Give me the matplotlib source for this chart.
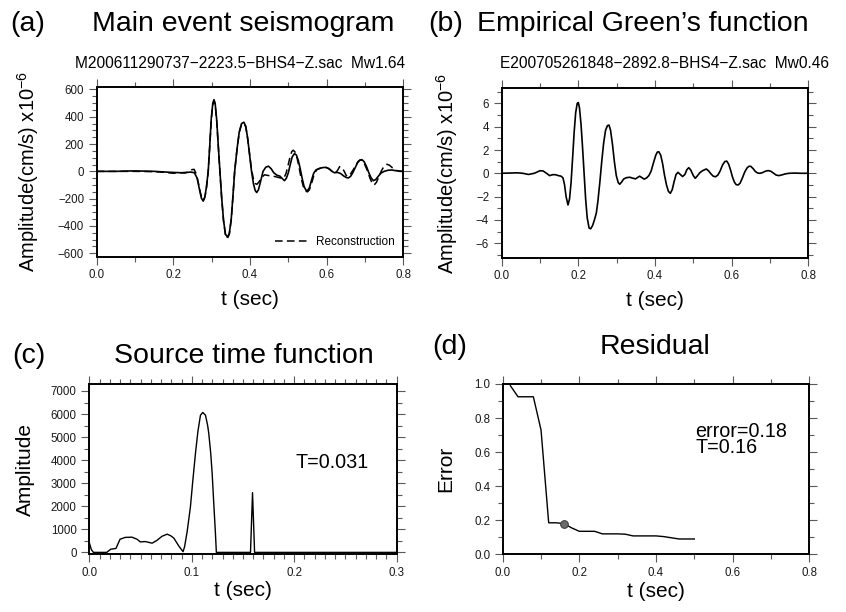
import numpy as np
import matplotlib
matplotlib.use("Agg")
import matplotlib.pyplot as plt
from matplotlib.ticker import MultipleLocator, FuncFormatter

plt.rcParams['font.family'] = ['Liberation Sans', 'DejaVu Sans']
plt.rcParams['mathtext.fontset'] = 'custom'
plt.rcParams['mathtext.rm'] = 'Liberation Sans'
plt.rcParams['mathtext.it'] = 'Liberation Sans'

# (a) main event seismogram and its reconstruction, x10^-6 cm/s
main_t = [0.0, 0.05, 0.09, 0.12, 0.15, 0.18, 0.2, 0.22, 0.235, 0.245, 0.255,
          0.262, 0.268, 0.273, 0.278, 0.282, 0.286, 0.291, 0.295, 0.299, 0.303,
          0.306, 0.309, 0.313, 0.317, 0.3215, 0.326, 0.331, 0.336, 0.341, 0.346,
          0.351, 0.355, 0.36, 0.366, 0.372, 0.378, 0.384, 0.389, 0.394, 0.399,
          0.404, 0.409, 0.4135, 0.4175, 0.422, 0.428, 0.434, 0.441, 0.448, 0.455,
          0.462, 0.47, 0.478, 0.485, 0.49, 0.495, 0.5, 0.505, 0.51, 0.516, 0.521,
          0.526, 0.531, 0.536, 0.541, 0.546, 0.55, 0.555, 0.56, 0.566, 0.572,
          0.58, 0.59, 0.598, 0.606, 0.614, 0.62, 0.628, 0.636, 0.645, 0.652,
          0.657, 0.663, 0.669, 0.675, 0.681, 0.687, 0.692, 0.698, 0.704, 0.71,
          0.716, 0.722, 0.728, 0.735, 0.742, 0.75, 0.76, 0.77, 0.78, 0.79, 0.8]
main_amp = [0, 0, 3, 2, 0, -5, -8, -10, -8, -5, -10,
            -50, -130, -195, -218, -190, -120, 0, 190, 390, 500,
            525, 500, 380, 200, 0, -190, -360, -460, -482, -455,
            -350, -200, 0, 160, 290, 350, 360, 330, 240, 120,
            0, -90, -140, -155, -135, -70, 0, 30, 38, 20,
            -10, -28, -35, -55, -68, -50, -10, 50, 105, 130, 120,
            80, 20, -50, -110, -138, -141, -120, -70, -15, 10,
            20, 28, 29, 20, 0, -10, -8, -15, -35, -46,
            -48, -35, -5, 30, 65, 83, 86, 70, 35, -10,
            -48, -68, -60, -35, -12, 0, 8, 10, 5, 2, 0]

recon_t = [0.0, 0.1, 0.15, 0.18, 0.2, 0.215, 0.23, 0.24, 0.248, 0.254, 0.26,
           0.265, 0.27, 0.275, 0.279, 0.283, 0.287, 0.291, 0.295, 0.299, 0.303,
           0.306, 0.309, 0.313, 0.317, 0.3215, 0.326, 0.331, 0.336, 0.341, 0.346,
           0.351, 0.355, 0.36, 0.366, 0.372, 0.378, 0.384, 0.389, 0.394, 0.399,
           0.404, 0.409, 0.414, 0.418, 0.424, 0.43, 0.438, 0.447, 0.456, 0.465,
           0.475, 0.483, 0.489, 0.494, 0.499, 0.504, 0.509, 0.513, 0.518, 0.523,
           0.528, 0.533, 0.539, 0.545, 0.55, 0.555, 0.561, 0.567, 0.574, 0.582,
           0.592, 0.6, 0.608, 0.616, 0.622, 0.628, 0.634, 0.639, 0.645, 0.651,
           0.656, 0.662, 0.669, 0.676, 0.683, 0.689, 0.695, 0.701, 0.707, 0.713,
           0.719, 0.724, 0.73, 0.736, 0.743, 0.75, 0.757, 0.764, 0.772, 0.782,
           0.79, 0.8]
recon_amp = [0, 0, -2, -8, -14, -10, -12, -3, 12, 15, -20,
             -80, -150, -200, -210, -180, -110, 0, 185, 380, 490,
             515, 490, 375, 195, 0, -195, -365, -468, -490, -462,
             -355, -205, 0, 158, 285, 345, 352, 325, 238, 125,
             10, -55, -90, -95, -75, -45, -25, -30, -35, -38,
             -45, -52, -45, -15, 40, 100, 145, 155, 140, 95,
             30, -45, -110, -145, -150, -135, -85, -25, 12, 22,
             30, 28, 15, -5, -12, 5, 35, 30, 5, -30,
             -38, -20, 10, 45, 75, 85, 72, 40, 0, -50,
             -88, -100, -80, -40, 5, 38, 52, 45, 25, 8,
             0, 0]

# (b) empirical Green's function, x10^-6 cm/s
egf_t = [0.0, 0.02, 0.04, 0.055, 0.07, 0.085, 0.1, 0.108, 0.117, 0.125, 0.133,
         0.14, 0.148, 0.155, 0.16, 0.164, 0.168, 0.173, 0.177, 0.181, 0.185,
         0.189, 0.193, 0.197, 0.2, 0.203, 0.207, 0.211, 0.215, 0.219, 0.223,
         0.228, 0.232, 0.237, 0.242, 0.247, 0.251, 0.256, 0.261, 0.266, 0.271,
         0.276, 0.28, 0.284, 0.289, 0.294, 0.299, 0.304, 0.308, 0.313, 0.318,
         0.325, 0.334, 0.342, 0.349, 0.355, 0.36, 0.366, 0.372, 0.378, 0.384,
         0.39, 0.396, 0.402, 0.406, 0.41, 0.415, 0.42, 0.425, 0.43, 0.435,
         0.44, 0.445, 0.45, 0.455, 0.46, 0.466, 0.472, 0.478, 0.483, 0.488,
         0.493, 0.5, 0.505, 0.511, 0.517, 0.523, 0.529, 0.534, 0.54, 0.546,
         0.552, 0.558, 0.564, 0.57, 0.576, 0.582, 0.587, 0.592, 0.597, 0.602,
         0.607, 0.612, 0.617, 0.622, 0.628, 0.634, 0.64, 0.645, 0.65, 0.656,
         0.662, 0.668, 0.674, 0.68, 0.688, 0.695, 0.702, 0.709, 0.716, 0.723,
         0.73, 0.74, 0.75, 0.765, 0.78, 0.8]
egf_amp = [0.0, 0.02, 0.04, 0.0, -0.1, 0.0, 0.22, 0.2, 0.0, -0.2, -0.12,
           -0.12, -0.2, -0.25, -0.4, -1.0, -2.0, -2.72, -2.2, -0.8, 1.3,
           3.5, 5.2, 6.0, 6.08, 5.6, 4.2, 2.2, 0.0, -2.2, -3.8,
           -4.7, -4.77, -4.5, -4.0, -3.4, -2.4, -0.8, 1.0, 2.6, 3.7,
           4.1, 4.14, 3.7, 2.5, 1.0, -0.2, -0.8, -0.94, -0.75, -0.5,
           -0.38, -0.34, -0.42, -0.48, -0.35, -0.25, -0.38, -0.5, -0.4, -0.2,
           0.2, 0.9, 1.55, 1.82, 1.85, 1.55, 0.8, -0.2, -1.0, -1.55,
           -1.72, -1.4, -0.7, -0.1, 0.08, -0.1, -0.28, -0.1, 0.3, 0.48,
           0.3, -0.2, -0.43, -0.2, 0.05, 0.2, 0.3, 0.37, 0.2, -0.05,
           -0.25, -0.3, -0.15, 0.2, 0.7, 1.0, 1.05, 0.8, 0.3, -0.3,
           -0.75, -0.98, -1.0, -0.85, -0.4, 0.1, 0.45, 0.6, 0.6, 0.4,
           0.15, 0.02, 0.0, 0.05, 0.18, 0.23, 0.18, 0.02, -0.15, -0.2,
           -0.15, -0.05, 0.0, 0.02, 0.0, 0.0]

# (c) source time function
stf_t = [0.0, 0.002, 0.004, 0.017, 0.021, 0.026, 0.03, 0.035, 0.0417, 0.0466,
         0.0498, 0.0547, 0.0613, 0.066, 0.071, 0.076, 0.0795, 0.0825, 0.0873,
         0.0915, 0.093, 0.0955, 0.0987, 0.101, 0.1036, 0.106, 0.1085, 0.1107,
         0.1134, 0.1155, 0.1166, 0.1185, 0.1199, 0.1215, 0.1231, 0.124, 0.1573,
         0.1593, 0.1613, 0.3]
stf_amp = [420, 120, 0, 0, 140, 170, 570, 650, 660, 570,
           455, 470, 400, 520, 700, 790, 720, 620, 280,
           30, 250, 900, 1980, 3100, 4290, 5250, 5950, 6070,
           5950, 5500, 5160, 4300, 3430, 2100, 830, 0, 0,
           2590, 0, 0]
stf_duration = "T=0.031"

# (d) residual error against duration
res_t = [0.02, 0.04, 0.06, 0.08, 0.1, 0.12, 0.14, 0.16, 0.18, 0.2, 0.22, 0.24,
         0.26, 0.28, 0.3, 0.32, 0.34, 0.36, 0.38, 0.4, 0.42, 0.44, 0.46, 0.48, 0.5]
res_err = [0.99, 0.925, 0.925, 0.925, 0.73, 0.185, 0.185, 0.18, 0.155, 0.135,
           0.135, 0.135, 0.12, 0.12, 0.12, 0.118, 0.108, 0.108, 0.108, 0.108,
           0.104, 0.097, 0.09, 0.09, 0.09]
best_t = 0.16
best_err = 0.18

W, H = 846, 612
fig = plt.figure(figsize=(W / 100, H / 100), dpi=100)


def axes_px(left, top, right, bottom):
    return fig.add_axes([left / W, 1 - bottom / H, (right - left) / W, (bottom - top) / H])


def fmt(pattern):
    # real minus sign like the GMT annotations
    return FuncFormatter(lambda v, pos: (pattern % v).replace('-', '\u2212'))


def gmt_frame(ax, xmaj, xmin, ymaj, ymin, xfmt, yfmt):
    ax.xaxis.set_major_locator(MultipleLocator(xmaj))
    ax.xaxis.set_minor_locator(MultipleLocator(xmin))
    ax.yaxis.set_major_locator(MultipleLocator(ymaj))
    ax.yaxis.set_minor_locator(MultipleLocator(ymin))
    ax.xaxis.set_major_formatter(fmt(xfmt))
    ax.yaxis.set_major_formatter(fmt(yfmt))
    ax.tick_params(which='both', direction='out', top=True, right=True,
                   color='0.35', width=0.8, labelsize=8.3, labelcolor='0.1')
    ax.tick_params(which='major', length=5.5, pad=3.5)
    ax.tick_params(which='minor', length=3.4)
    for s in ax.spines.values():
        s.set_linewidth(1.4)


def px_text(x, y, s, **kw):
    fig.text(x / W, 1 - y / H, s, **kw)


amp_label = r'Amplitude(cm/s) x10$^{-6}$'

# (a)
ax = axes_px(96.7, 86.7, 403.3, 256.7)
ax.plot(main_t, main_amp, color='k', lw=1.2)
ax.plot(recon_t, recon_amp, color='k', lw=1.1, dashes=(5, 2.8), label='Reconstruction')
ax.set_xlim(0, 0.8)
ax.set_ylim(-625, 620)
gmt_frame(ax, 0.2, 0.1, 200, 50, '%.1f', '%d')
ax.set_xlabel('t (sec)', fontsize=15, labelpad=6)
ax.set_ylabel(amp_label, fontsize=14.5, va='center')
ax.yaxis.set_label_coords(-0.225, 0.5)
ax.legend(loc='lower right', frameon=False, fontsize=8.5, handlelength=2.9,
          handletextpad=0.6, borderaxespad=0.3)

# (b)
ax = axes_px(501.7, 88.3, 808.3, 257.7)
ax.plot(egf_t, egf_amp, color='k', lw=1.2)
ax.set_xlim(0, 0.8)
ax.set_ylim(-7.25, 7.3)
gmt_frame(ax, 0.2, 0.1, 2, 1, '%.1f', '%d')
ax.set_xlabel('t (sec)', fontsize=15, labelpad=6)
ax.set_ylabel(amp_label, fontsize=14.5, va='center')
ax.yaxis.set_label_coords(-0.177, 0.5)

# (c)
ax = axes_px(89.3, 384.3, 396.7, 554)
ax.plot(stf_t, stf_amp, color='k', lw=1.0)
ax.set_xlim(0, 0.3)
ax.set_ylim(-70, 7290)
gmt_frame(ax, 0.1, 0.01, 1000, 500, '%.1f', '%d')
ax.set_xlabel('t (sec)', fontsize=15, labelpad=2)
ax.set_ylabel('Amplitude', fontsize=15, va='center')
ax.yaxis.set_label_coords(-0.207, 0.5)
ax.text(0.201, 3920, stf_duration, fontsize=14.2, va='center', ha='left')

# (d)
ax = axes_px(502.7, 384, 809.3, 554.3)
ax.plot(res_t, res_err, color='k', lw=1.0)
ax.plot([best_t], [best_err], 'o', ms=5.5, mfc='0.42', mec='0.25', mew=0.8)
ax.set_xlim(0, 0.8)
ax.set_ylim(0, 1.0)
gmt_frame(ax, 0.2, 0.1, 0.2, 0.1, '%.1f', '%.1f')
ax.set_xlabel('t (sec)', fontsize=15, labelpad=2)
ax.set_ylabel('Error', fontsize=15, va='center')
ax.yaxis.set_label_coords(-0.186, 0.5)
ax.text(0.502, 0.778, 'error=%.2f\nT=%.2f' % (best_err, best_t), fontsize=14.2,
        va='top', ha='left', linespacing=0.82)

# panel letters and titles
title_fs = 20.5
px_text(10, 31, '(a)', fontsize=title_fs, va='baseline')
px_text(243.5, 31, 'Main event seismogram', fontsize=title_fs, va='baseline', ha='center')
px_text(428, 31, '(b)', fontsize=title_fs, va='baseline')
px_text(643, 31, 'Empirical Green\u2019s function', fontsize=title_fs, va='baseline', ha='center')
px_text(12, 363, '(c)', fontsize=title_fs, va='baseline')
px_text(244, 363, 'Source time function', fontsize=title_fs, va='baseline', ha='center')
px_text(432, 354, '(d)', fontsize=title_fs, va='baseline')
px_text(655, 354, 'Residual', fontsize=title_fs, va='baseline', ha='center')

px_text(240.5, 68.3, 'M200611290737\u22122223.5\u2212BHS4\u2212Z.sac  Mw1.64',
        fontsize=11.2, va='baseline', ha='center')
px_text(664, 68.3, 'E200705261848\u22122892.8\u2212BHS4\u2212Z.sac  Mw0.46',
        fontsize=11.2, va='baseline', ha='center')

fig.savefig('out.png', dpi=100)
